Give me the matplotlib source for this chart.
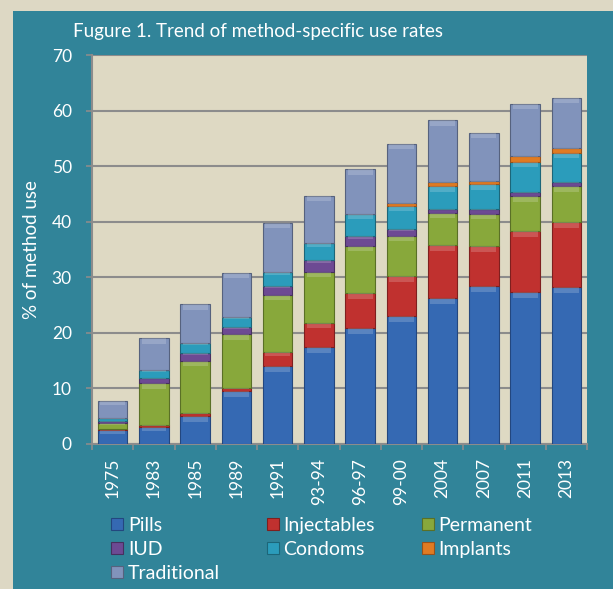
import numpy as np
import matplotlib.pyplot as plt
from matplotlib.patches import Rectangle

plt.rcParams['font.family'] = ['Lato', 'DejaVu Sans']

years = ['1975', '1983', '1985', '1989', '1991', '93-94', '96-97', '99-00',
         '2004', '2007', '2011', '2013']
pills = [2.5, 3.1, 5.0, 9.5, 14.0, 17.4, 20.8, 23.0, 26.2, 28.4, 27.3, 28.2]
injectables = [0.2, 0.3, 0.5, 0.6, 2.5, 4.4, 6.3, 7.2, 9.6, 7.2, 11.0, 11.7]
permanent = [1.0, 7.5, 9.5, 9.7, 10.4, 9.2, 8.6, 7.3, 5.8, 5.8, 6.3, 6.5]
iud = [0.4, 1.0, 1.4, 1.3, 1.6, 2.2, 1.7, 1.2, 0.6, 0.9, 0.7, 0.8]
condoms = [0.5, 1.4, 1.8, 1.8, 2.5, 2.9, 4.0, 4.2, 4.2, 4.4, 5.5, 5.2]
implants = [0.0, 0.0, 0.0, 0.0, 0.0, 0.0, 0.0, 0.5, 0.8, 0.7, 1.1, 0.9]
traditional = [3.2, 5.7, 7.0, 7.9, 8.8, 8.6, 8.0, 10.6, 11.1, 8.6, 9.3, 9.0]

series = [
    ('Pills', pills, '#3569b3', '#23477f'),
    ('Injectables', injectables, '#c0312f', '#7f1f1e'),
    ('Permanent', permanent, '#88a83b', '#5a7026'),
    ('IUD', iud, '#6d4a93', '#47305f'),
    ('Condoms', condoms, '#2b9cbb', '#1c6679'),
    ('Implants', implants, '#e07b22', '#98521a'),
    ('Traditional', traditional, '#8193bb', '#56627e'),
]

teal = '#318499'
fig = plt.figure(figsize=(6.13, 5.89), dpi=100)
fig.patch.set_facecolor('#ddd8c4')
fig.patches.append(Rectangle((13 / 613, 0), 1, 1 - 11 / 589, transform=fig.transFigure,
                             facecolor=teal, edgecolor='none', zorder=-5))

ax = fig.add_axes([92 / 613, (589 - 444) / 589, (587 - 92) / 613, (444 - 55) / 589])
ax.set_facecolor('#ded9c3')

x = np.arange(len(years))
bottom = np.zeros(len(years))
handles = {}
for name, vals, col, edge in series:
    vals = np.array(vals)
    bars = ax.bar(x, vals, 0.72, bottom=bottom, color=col, edgecolor=edge,
                  linewidth=0.8, label=name, zorder=3)
    # light band at the top of each segment for the bevel look
    hi = np.minimum(vals * 0.25, 1.0)
    ax.bar(x, hi, 0.6, bottom=bottom + vals - hi, color='white', alpha=0.18,
           linewidth=0, zorder=4)
    handles[name] = bars
    bottom += vals

ax.set_ylim(0, 70)
ax.set_xlim(-0.5, len(years) - 0.5)
ax.set_yticks(range(0, 71, 10))
ax.set_xticks(x)
ax.set_xticklabels(years, rotation=90)
ax.set_xticks(np.arange(-0.5, len(years)), minor=True)
ax.tick_params(axis='x', which='major', length=0, pad=10, colors='white', labelsize=12.5)
ax.tick_params(axis='x', which='minor', length=4.5, color='#8c8c8c', width=1.2)
ax.tick_params(axis='y', length=4.5, color='#8c8c8c', width=1.2, colors='white',
               labelsize=12.5, pad=10)
ax.grid(axis='y', color='#8c8c8c', linewidth=1.5, zorder=1)
for s in ['top', 'right']:
    ax.spines[s].set_visible(False)
ax.spines['left'].set_color('#8c8c8c')
ax.spines['left'].set_linewidth(1.5)
ax.spines['bottom'].set_color('#8c8c8c')
ax.spines['bottom'].set_linewidth(1.5)

ax.set_ylabel('% of method use', color='white', fontsize=13.5)
ax.yaxis.set_label_coords(-0.105, 0.5)

fig.text(73 / 613, 1 - 31 / 589, 'Fugure 1. Trend of method-specific use rates',
         color='white', fontsize=13.5, va='center')

order = ['Pills', 'IUD', 'Traditional', 'Injectables', 'Condoms', 'Permanent', 'Implants']
leg = fig.legend([handles[n] for n in order], order, ncol=3, loc='upper left',
                 bbox_to_anchor=(111 / 613, 1 - 517 / 589), frameon=False,
                 fontsize=14, labelcolor='white', handlelength=0.62, handleheight=0.62,
                 handletextpad=0.25, columnspacing=2.4, labelspacing=0.36,
                 borderpad=0, borderaxespad=0)

fig.savefig('out.png', dpi=100, facecolor=fig.get_facecolor())
